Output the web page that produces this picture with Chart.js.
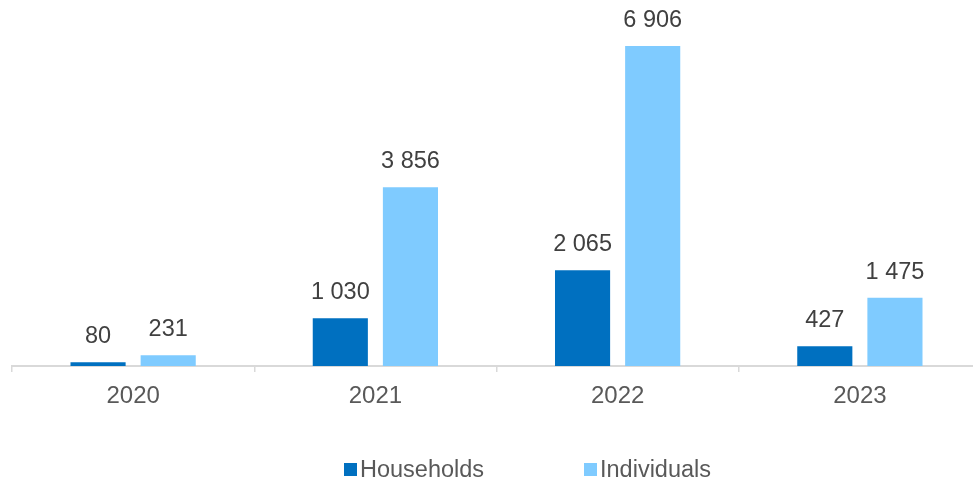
<!DOCTYPE html>
<html>
<head>
<meta charset="utf-8">
<script src="https://cdn.jsdelivr.net/npm/chart.js@4"></script>
<style>
html,body{margin:0;padding:0;overflow:hidden;background:#fff;}
#wrap{width:981px;height:482px;position:relative;}
</style>
</head>
<body>
<div id="wrap"><canvas id="c"></canvas></div>
<script>
const categories = ['2020', '2021', '2022', '2023'];
const households = [80, 1030, 2065, 427];
const individuals = [231, 3856, 6906, 1475];
const seriesNames = ['Households', 'Individuals'];
const seriesColors = ['#0070C0', '#7FCBFF'];

const FONT = '"Liberation Sans", Arial, sans-serif';

function fmt(v){ return String(v).replace(/\B(?=(\d{3})+(?!\d))/g, ' '); }

const valueLabels = {
  id: 'valueLabels',
  afterDatasetsDraw(chart){
    const ctx = chart.ctx;
    ctx.save();
    ctx.font = '23.5px ' + FONT;
    ctx.fillStyle = '#404040';
    ctx.textAlign = 'center';
    ctx.textBaseline = 'alphabetic';
    chart.data.datasets.forEach((ds, i) => {
      const meta = chart.getDatasetMeta(i);
      meta.data.forEach((el, j) => {
        ctx.fillText(fmt(ds.data[j]), el.x, el.y - 19);
      });
    });
    ctx.restore();
  }
};

const customLegend = {
  id: 'customLegend',
  afterDraw(chart){
    const ctx = chart.ctx;
    ctx.save();
    ctx.font = '23.5px ' + FONT;
    ctx.textBaseline = 'alphabetic';
    ctx.textAlign = 'left';
    const xs = [344, 584];
    chart.data.datasets.forEach((ds, i) => {
      ctx.fillStyle = ds.backgroundColor;
      ctx.fillRect(xs[i], 463, 13, 13);
      ctx.fillStyle = '#595959';
      ctx.fillText(ds.label, xs[i] + 16, 477);
    });
    ctx.restore();
  }
};

new Chart(document.getElementById('c'), {
  type: 'bar',
  data: {
    labels: categories,
    datasets: [
      { label: seriesNames[0], data: households, backgroundColor: seriesColors[0] },
      { label: seriesNames[1], data: individuals, backgroundColor: seriesColors[1] }
    ]
  },
  options: {
    responsive: true,
    maintainAspectRatio: false,
    animation: false,
    devicePixelRatio: 1,
    categoryPercentage: 0.579,
    barPercentage: 0.786,
    layout: { padding: { left: 12, right: 0, top: 0, bottom: 66 } },
    plugins: { legend: { display: false }, tooltip: { enabled: false } },
    scales: {
      x: {
        afterFit(scale){ scale.height = 50; },
        grid: { drawOnChartArea: false, drawTicks: true, tickLength: 6, color: '#d9d9d9', lineWidth: 1.5, offset: true },
        border: { display: true, color: '#d9d9d9', width: 2 },
        ticks: { color: '#595959', font: { size: 24, family: FONT }, padding: 10 }
      },
      y: { display: false, min: 0, max: 7900 }
    }
  },
  plugins: [valueLabels, customLegend]
});
</script>
</body>
</html>
